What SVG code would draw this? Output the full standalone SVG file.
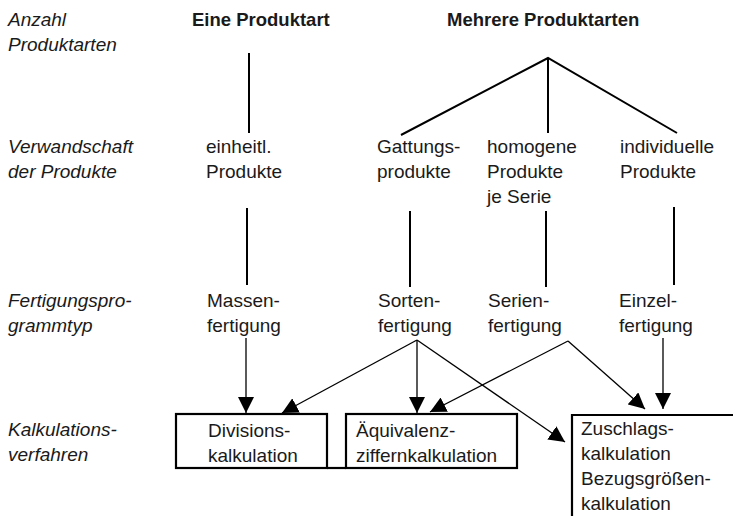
<svg xmlns="http://www.w3.org/2000/svg" width="733" height="516" viewBox="0 0 733 516">
  <style>
    text { font-family: "Liberation Sans", Arial, sans-serif; font-size: 19px; fill: #1a1a1a; }
    .head { font-weight: bold; font-size: 18.5px; }
    .axis { font-style: italic; }
    .tree { stroke: #000; stroke-width: 2; fill: none; }
    .arrow { stroke: #000; stroke-width: 1.3; fill: none; marker-end: url(#tip); }
    .box { stroke: #000; stroke-width: 2.2; fill: none; }
  </style>
  <defs>
    <marker id="tip" viewBox="0 0 16 16" refX="16" refY="8" markerWidth="16" markerHeight="16" markerUnits="userSpaceOnUse" orient="auto">
      <path d="M0,0 L16,8 L0,16 Z" fill="#000"/>
    </marker>
  </defs>

  <!-- row labels -->
  <g id="axis-labels">
    <text class="axis" x="8" y="26">Anzahl</text>
    <text class="axis" x="8" y="51">Produktarten</text>
    <text class="axis" x="8" y="153">Verwandschaft</text>
    <text class="axis" x="8" y="178">der Produkte</text>
    <text class="axis" x="8" y="307">Fertigungspro-</text>
    <text class="axis" x="8" y="332">grammtyp</text>
    <text class="axis" x="8" y="436">Kalkulations-</text>
    <text class="axis" x="8" y="461">verfahren</text>
  </g>

  <!-- level 1 -->
  <g id="eine-produktart"><text class="head" x="192" y="26">Eine Produktart</text></g>
  <g id="mehrere-produktarten"><text class="head" x="447" y="26">Mehrere Produktarten</text></g>

  <!-- level 2 -->
  <g id="einheitl-produkte">
    <text x="206" y="153">einheitl.</text>
    <text x="206" y="178">Produkte</text>
  </g>
  <g id="gattungsprodukte">
    <text x="377" y="153">Gattungs-</text>
    <text x="377" y="178">produkte</text>
  </g>
  <g id="homogene-produkte">
    <text x="487" y="153">homogene</text>
    <text x="487" y="178">Produkte</text>
    <text x="487" y="203">je Serie</text>
  </g>
  <g id="individuelle-produkte">
    <text x="620" y="153">individuelle</text>
    <text x="620" y="178">Produkte</text>
  </g>

  <!-- level 3 -->
  <g id="massenfertigung">
    <text x="207" y="307">Massen-</text>
    <text x="207" y="332">fertigung</text>
  </g>
  <g id="sortenfertigung">
    <text x="378" y="307">Sorten-</text>
    <text x="378" y="332">fertigung</text>
  </g>
  <g id="serienfertigung">
    <text x="488" y="307">Serien-</text>
    <text x="488" y="332">fertigung</text>
  </g>
  <g id="einzelfertigung">
    <text x="619" y="307">Einzel-</text>
    <text x="619" y="332">fertigung</text>
  </g>

  <!-- level 4: costing methods -->
  <g id="divisionskalkulation">
    <rect class="box" x="176" y="414" width="151" height="54"/>
    <text x="208" y="437">Divisions-</text>
    <text x="208" y="462">kalkulation</text>
  </g>
  <g id="aequivalenzziffernkalkulation">
    <rect class="box" x="346" y="414" width="171" height="54"/>
    <text x="356" y="437">Äquivalenz-</text>
    <text x="356" y="462">ziffernkalkulation</text>
  </g>
  <g id="zuschlagskalkulation">
    <path class="box" d="M735,415 H572 V520"/>
    <text x="581" y="435">Zuschlags-</text>
    <text x="581" y="460">kalkulation</text>
    <text x="581" y="485">Bezugsgrößen-</text>
    <text x="581" y="510">kalkulation</text>
  </g>

  <g id="connectors">
    <!-- tree lines -->
    <line class="tree" x1="249" y1="53" x2="249" y2="133"/>
    <polyline class="tree" points="401,135 548,58 677,133"/>
    <line class="tree" x1="548" y1="58" x2="548" y2="133"/>
    <line class="tree" x1="247" y1="208" x2="247" y2="285"/>
    <line class="tree" x1="410" y1="211" x2="410" y2="287"/>
    <line class="tree" x1="546" y1="211" x2="546" y2="287"/>
    <line class="tree" x1="674" y1="207" x2="674" y2="285"/>
    <!-- joint between the first two boxes -->
    <line class="box" x1="327" y1="468" x2="346" y2="468"/>
    <!-- arrows to costing methods -->
    <line class="arrow" x1="246" y1="338" x2="246" y2="413"/>
    <line class="arrow" x1="417" y1="340" x2="282" y2="413"/>
    <line class="arrow" x1="417" y1="340" x2="417" y2="413"/>
    <line class="arrow" x1="417" y1="340" x2="565" y2="442"/>
    <line class="arrow" x1="568" y1="341" x2="430" y2="412"/>
    <line class="arrow" x1="568" y1="341" x2="645" y2="409"/>
    <line class="arrow" x1="663" y1="338" x2="663" y2="409"/>
  </g>
</svg>
